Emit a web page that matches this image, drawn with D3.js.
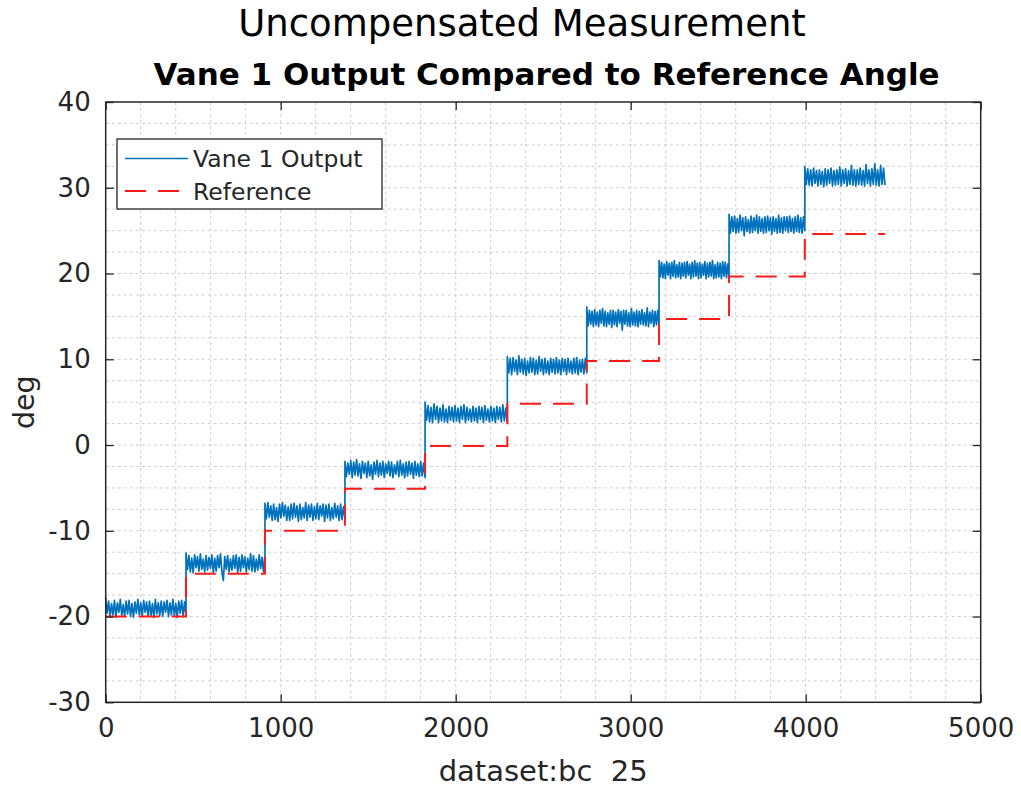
<!DOCTYPE html>
<html>
<head>
<meta charset="utf-8">
<script src="https://cdn.jsdelivr.net/npm/d3@7"></script>
<style>
  body { margin: 0; background: #fff; }
  svg { display: block; font-family: "DejaVu Sans", sans-serif; }
</style>
</head>
<body>
<svg id="chart" width="1021" height="789"></svg>
<script>
// ---- data ----
const stepBounds = [0, 459, 910, 1367, 1825, 2295, 2749, 3162, 3562, 3995, 4453];
const referenceLevels = [-20, -15, -10, -5.1, -0.1, 4.8, 9.8, 14.7, 19.65, 24.6];
const vaneLevels = [-19.0, -13.8, -7.8, -2.8, 3.6, 9.2, 14.8, 20.4, 25.7, 31.2];
const vaneDev1 = [1.2,-0.6,0.8,-1.0,0.5,-0.8,0.9,-1.1,0.6,-0.5,1.0,-0.9,0.4,-1.0,0.8,-0.7,0.9,-1.0,0.5,-1.1,0.7,-0.6,1.0,-0.8,0.6,-1.0,0.9,-0.5,0.7,-1.0,0.8,-0.9,0.5,-1.1,1.0,-0.7,0.6,-0.9,0.8,-1.0,0.7,-0.5,0.9,-1.0,0.6,-0.8,1.0,-0.9,0.5,-1.1,0.8,-0.6,0.9,-1.0,0.7,-0.8];
const vaneDev2 = [1.2,-0.7,0.9,-1.0,0.6,-1.1,1.0,-0.5,0.8,-0.9,1.1,-0.7,0.5,-1.0,0.9,-0.8,0.7,-0.6,1.0,-1.1,0.6,-0.9,0.9,-0.5,1.1,-1.0,-2.0,0.8,-0.7,0.9,-1.0,0.5,-0.8,0.9,-0.6,1.0,-1.1,0.7,-0.9,1.0,-0.5,0.8,-1.0,0.6,-0.7,1.1,-0.9,0.9,-1.0,0.5,-0.8,1.0,-0.6,0.7,-1.0,0.9];
const vaneDev3 = [1.0,-0.8,1.1,-0.6,0.7,-1.0,0.9,-0.9,0.5,-1.1,0.9,-0.7,1.1,-0.5,0.8,-1.0,0.6,-1.0,0.9,-0.8,1.0,-0.6,0.7,-1.1,0.9,-0.9,0.5,-0.7,1.1,-1.0,0.8,-0.6,0.9,-1.0,0.6,-0.8,1.0,-0.9,0.7,-0.5,0.9,-1.1,0.8,-0.7,0.9,-1.0,0.5,-0.8,1.0,-0.6,0.7,-1.0,0.9,-0.9,0.6,-0.7];
const vaneDev4 = [0.9,-0.9,0.7,-0.6,1.0,-1.0,0.8,-0.7,1.1,-0.8,0.6,-1.1,0.9,-0.5,0.7,-1.0,0.9,-0.8,0.5,-1.2,0.8,-0.6,1.0,-0.9,0.7,-0.7,0.9,-1.0,0.6,-0.5,0.9,-0.8,0.8,-1.0,0.5,-0.6,0.9,-0.9,1.0,-0.7,0.6,-1.0,0.8,-0.8,0.9,-0.6,0.7,-1.1,0.9,-0.7,0.6,-0.9,0.9,-0.8,0.7,-1.0];
const vaneDev5 = [1.4,-0.7,1.0,-0.9,0.8,-1.0,1.2,-0.6,0.9,-1.0,0.7,-0.8,1.1,-0.9,0.6,-1.0,0.9,-0.7,0.8,-0.9,1.0,-0.8,0.7,-1.0,0.9,-0.6,1.1,-1.0,0.8,-0.7,0.6,-0.9,0.9,-0.8,0.7,-1.0,0.9,-0.6,0.8,-1.0,1.0,-0.7,0.6,-0.9,0.9,-0.8,0.7,-1.0,0.9,-0.6,0.8,-0.9,1.1,-0.8,0.7,-1.0];
const vaneDev6 = [1.1,-0.8,0.9,-1.0,1.0,-0.6,0.7,-1.0,1.2,-0.7,0.8,-0.9,0.9,-1.1,0.6,-0.8,1.0,-0.7,0.9,-1.0,0.7,-0.9,1.1,-0.6,0.8,-1.0,0.9,-0.8,0.6,-1.0,0.9,-0.7,0.8,-0.9,1.0,-0.8,0.7,-1.0,0.9,-0.6,0.8,-1.0,0.9,-0.7,0.6,-0.9,0.9,-0.8,1.0,-1.0,0.7,-0.7,0.8,-0.9,0.9,-0.8];
const vaneDev7 = [1.3,-0.9,0.9,-0.7,0.8,-1.0,1.0,-0.8,0.7,-1.0,0.9,-0.6,1.1,-0.9,0.8,-1.0,0.6,-0.7,0.9,-1.1,0.9,-0.8,0.7,-1.0,1.0,-0.6,0.8,-1.4,0.9,-0.7,0.9,-0.9,0.6,-1.0,1.1,-0.8,0.7,-0.9,0.9,-1.0,0.8,-0.7,1.0,-0.8,0.6,-0.9,1.2,-1.0,0.7,-0.6,0.9,-1.0,0.8,-0.8,0.9,-0.9];
const vaneDev8 = [1.1,-0.8,0.9,-0.9,0.7,-1.0,1.0,-0.6,0.8,-1.0,0.9,-0.7,1.1,-0.9,0.6,-0.8,0.9,-1.0,0.8,-0.7,0.9,-0.9,1.0,-0.6,0.7,-1.0,0.9,-0.8,1.1,-0.7,0.8,-1.0,0.9,-0.9,0.7,-0.6,1.0,-1.0,0.8,-0.8,0.9,-0.7,1.1,-1.0,0.6,-0.9,0.9,-0.8,0.8,-1.0,1.0,-0.7,0.9,-0.9,0.7,-0.8];
const vaneDev9 = [1.2,-1.0,0.9,-0.8,1.0,-1.0,0.7,-0.9,1.1,-0.7,0.8,-1.3,0.9,-0.8,0.6,-1.0,1.0,-0.9,0.8,-0.7,1.1,-1.0,0.9,-0.8,0.7,-1.0,0.9,-0.9,1.0,-0.7,0.8,-1.1,0.9,-0.8,0.7,-1.0,1.1,-0.9,0.8,-1.0,0.9,-0.7,0.9,-0.9,1.0,-0.8,0.7,-1.0,0.9,-0.8,1.1,-0.9,0.8,-1.0,0.9,-0.7];
const vaneDev10 = [1.3,-0.8,1.0,-0.9,0.9,-1.0,1.1,-0.7,0.8,-1.0,0.9,-0.8,0.7,-1.1,1.0,-0.9,0.9,-0.7,1.1,-1.0,0.8,-0.9,0.9,-0.8,1.2,-1.0,0.9,-0.7,1.0,-1.0,0.8,-0.8,1.4,-0.9,0.9,-1.0,0.9,-0.8,1.1,-0.9,0.8,-1.0,1.5,-0.7,0.9,-1.0,1.0,-0.8,1.6,-0.9,0.9,-1.0,1.4,-0.8,1.1,-0.9];
const vaneDevs = [vaneDev1, vaneDev2, vaneDev3, vaneDev4, vaneDev5, vaneDev6, vaneDev7, vaneDev8, vaneDev9, vaneDev10];
const xTicks = [0, 1000, 2000, 3000, 4000, 5000];
const yTicks = [-30, -20, -10, 0, 10, 20, 30, 40];
const legendLabels = ["Vane 1 Output", "Reference"];

// ---- layout ----
const svg = d3.select("#chart");
const L = 105.7, R = 980.7, T = 102, B = 702.3;
const x = d3.scaleLinear().domain([0, 5000]).range([L, R]);
const y = d3.scaleLinear().domain([-30, 40]).range([B, T]);
const axisColor = "#262626";
const gridColor = "#cfcfcf";

// grid (minor + major, dashed)
const gGrid = svg.append("g");
const xMinor = d3.range(0, 5001, 200);
const yMinor = d3.range(-30, 40.01, 2.5);
gGrid.selectAll("line.vx").data(xMinor.filter(v => v > 0 && v < 5000)).join("line")
  .attr("x1", d => x(d)).attr("x2", d => x(d)).attr("y1", T).attr("y2", B)
  .attr("stroke", gridColor).attr("stroke-width", 1).attr("stroke-dasharray", "3,3");
gGrid.selectAll("line.hy").data(yMinor.filter(v => v > -30 && v < 40)).join("line")
  .attr("y1", d => y(d)).attr("y2", d => y(d)).attr("x1", L).attr("x2", R)
  .attr("stroke", gridColor).attr("stroke-width", 1).attr("stroke-dasharray", "3,3");

// data
const vanePoints = [];
vaneDevs.forEach((devs, k) => {
  const x0 = stepBounds[k], x1 = stepBounds[k + 1];
  devs.forEach((d, i) => {
    vanePoints.push([x0 + i * (x1 - x0) / (devs.length - 1), vaneLevels[k] + d]);
  });
});
const refPoints = stepBounds.map((b, i) => [b, referenceLevels[Math.min(i, referenceLevels.length - 1)]]);

const line = d3.line().x(d => x(d[0])).y(d => y(d[1]));
svg.append("path").datum(vanePoints)
  .attr("d", line).attr("fill", "none")
  .attr("stroke", "#0072BD").attr("stroke-width", 1.7).attr("stroke-linejoin", "round");
svg.append("path").datum(refPoints)
  .attr("d", line.curve(d3.curveStepAfter)).attr("fill", "none")
  .attr("stroke", "#ff1a1a").attr("stroke-width", 2).attr("stroke-dasharray", "21,12");

// axes box and ticks (inward, all four sides)
const fmt = d => String(d);
const gAx = svg.append("g").attr("color", axisColor);
const tickLen = 8;
gAx.append("g").attr("transform", `translate(0,${B})`)
  .call(d3.axisBottom(x).tickValues(xTicks).tickFormat(fmt).tickSizeInner(-tickLen).tickSizeOuter(0).tickPadding(16))
  .call(g => g.select(".domain").remove());
gAx.append("g").attr("transform", `translate(0,${T})`)
  .call(d3.axisTop(x).tickValues(xTicks).tickSizeInner(-tickLen).tickSizeOuter(0).tickFormat(""))
  .call(g => g.select(".domain").remove());
gAx.append("g").attr("transform", `translate(${L},0)`)
  .call(d3.axisLeft(y).tickValues(yTicks).tickFormat(fmt).tickSizeInner(-tickLen).tickSizeOuter(0).tickPadding(15))
  .call(g => g.select(".domain").remove());
gAx.append("g").attr("transform", `translate(${R},0)`)
  .call(d3.axisRight(y).tickValues(yTicks).tickSizeInner(-tickLen).tickSizeOuter(0).tickFormat(""))
  .call(g => g.select(".domain").remove());
gAx.selectAll(".tick line").attr("stroke-width", 1.3);
gAx.selectAll(".tick text").attr("font-size", 26).attr("font-family", "DejaVu Sans").attr("fill", axisColor);
svg.append("rect").attr("x", L).attr("y", T).attr("width", R - L).attr("height", B - T)
  .attr("fill", "none").attr("stroke", axisColor).attr("stroke-width", 1.5);

// labels
svg.append("text").attr("x", (L + R) / 2).attr("y", 781).attr("text-anchor", "middle")
  .attr("font-size", 29).attr("fill", axisColor).attr("xml:space", "preserve").text("dataset:bc  25");
svg.append("text").attr("transform", `translate(34,${(T + B) / 2}) rotate(-90)`).attr("text-anchor", "middle")
  .attr("font-size", 28.5).attr("fill", axisColor).text("deg");
svg.append("text").attr("x", 546.5).attr("y", 85).attr("text-anchor", "middle")
  .attr("font-size", 31).attr("font-weight", "bold").attr("fill", "#000").text("Vane 1 Output Compared to Reference Angle");
svg.append("text").attr("x", 522).attr("y", 36).attr("text-anchor", "middle")
  .attr("font-size", 37).attr("fill", "#000").text("Uncompensated Measurement");

// legend
const lg = svg.append("g");
lg.append("rect").attr("x", 117).attr("y", 139).attr("width", 265).attr("height", 70)
  .attr("fill", "#fff").attr("stroke", axisColor).attr("stroke-width", 1.3);
lg.append("line").attr("x1", 125).attr("x2", 188).attr("y1", 158.5).attr("y2", 158.5)
  .attr("stroke", "#0072BD").attr("stroke-width", 1.5);
lg.append("line").attr("x1", 125).attr("x2", 188).attr("y1", 191).attr("y2", 191)
  .attr("stroke", "#ff1a1a").attr("stroke-width", 2).attr("stroke-dasharray", "21,12");
lg.selectAll("text.lt").data(legendLabels).join("text")
  .attr("x", 193).attr("y", (d, i) => 167 + i * 32.5)
  .attr("font-size", 23.5).attr("fill", axisColor).text(d => d);
</script>
</body>
</html>
